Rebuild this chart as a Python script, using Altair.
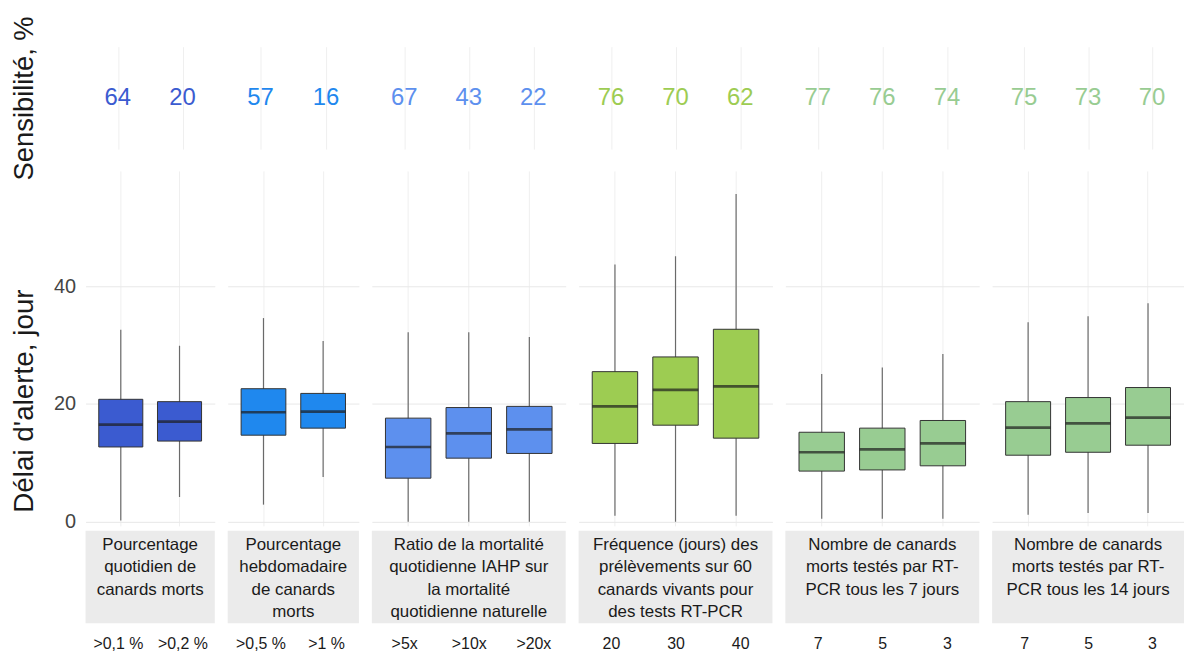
import altair as alt
import pandas as pd

FONT = "Liberation Sans"

strip_labels = [
    "Pourcentage\nquotidien de\ncanards morts",
    "Pourcentage\nhebdomadaire\nde canards\nmorts",
    "Ratio de la mortalité\nquotidienne IAHP sur\nla mortalité\nquotidienne naturelle",
    "Fréquence (jours) des\nprélèvements sur 60\ncanards vivants pour\ndes tests RT-PCR",
    "Nombre de canards\nmorts testés par RT-\nPCR tous les 7 jours",
    "Nombre de canards\nmorts testés par RT-\nPCR tous les 14 jours",
]
seuils = [
    [">0,1 %", ">0,2 %"],
    [">0,5 %", ">1 %"],
    [">5x", ">10x", ">20x"],
    ["20", "30", "40"],
    ["7", "5", "3"],
    ["7", "5", "3"],
]
sensibilite = [[64, 20], [57, 16], [67, 43, 22], [76, 70, 62], [77, 76, 74], [75, 73, 70]]
whisker_low = [[0.2, 4.2], [2.9, 7.6], [0.0, 0.0, 0.0], [1.0, 0.0, 1.0], [0.5, 0.5, 0.5], [1.2, 1.5, 1.5]]
q1 = [[12.7, 13.7], [14.7, 15.9], [7.4, 10.8, 11.6], [13.3, 16.4, 14.2], [8.6, 8.8, 9.5], [11.3, 11.8, 13.0]]
median = [[16.5, 17.0], [18.6, 18.7], [12.7, 15.0, 15.7], [19.6, 22.4, 23.0], [11.8, 12.3, 13.3], [16.0, 16.7, 17.7]]
q3 = [[20.8, 20.4], [22.6, 21.8], [17.6, 19.4, 19.6], [25.5, 28.0, 32.7], [15.2, 15.9, 17.2], [20.4, 21.1, 22.8]]
whisker_high = [[32.6, 29.9], [34.6, 30.7], [32.2, 32.2, 31.4], [43.7, 45.1, 55.7], [25.1, 26.2, 28.5], [33.9, 34.9, 37.1]]
colors = ["#3b5bd0", "#1f88ee", "#5d90ee", "#9dcc52", "#98cc92", "#98cc92"]

panel_widths = [130, 132, 195, 195, 195, 193]
Y_DOMAIN = [-0.7, 59.6]

sens_cells, spacer_cells, box_cells, strip_cells = [], [], [], []
for i in range(6):
    n = len(seuils[i])
    w = panel_widths[i]
    step = w / (n + 0.2)
    first = i == 0
    df = pd.DataFrame({
        "seuil": seuils[i],
        "sens": [str(v) for v in sensibilite[i]],
        "lo": whisker_low[i],
        "q1": q1[i],
        "med": median[i],
        "q3": q3[i],
        "hi": whisker_high[i],
        "row": ["s"] * n,
    })
    xscale = alt.Scale(domain=seuils[i], paddingInner=0, paddingOuter=0.1)
    x_grid_axis = alt.Axis(title=None, labels=False, ticks=False, domain=False,
                           grid=True, gridColor="#efefef", gridWidth=1, bandPosition=0.5)
    x_enc = alt.X("seuil:N", scale=xscale, sort=seuils[i], axis=x_grid_axis)

    # sensitivity row
    sens_enc = dict(x=x_enc, text="sens:N")
    if first:
        sens_enc["y"] = alt.Y("row:N", axis=alt.Axis(
            title="Sensibilité, %", labels=False, ticks=False, domain=False, grid=False,
            titleFontSize=27.5, titleFontWeight="normal", titleColor="#1a1a1a",
            titleX=-47, titleFont=FONT))
    sens = alt.Chart(df).mark_text(font=FONT, fontSize=24, color=colors[i]).encode(
        **sens_enc).properties(width=w, height=103)
    sens_cells.append(sens)

    # empty spacer between the two panel rows
    spacer = alt.Chart(df).mark_point(opacity=0).properties(width=w, height=12)
    spacer_cells.append(spacer)

    # box plot row
    if first:
        y_axis = alt.Axis(title="Délai d'alerte, jour", values=[0, 20, 40], ticks=False,
                          domain=False, labelFontSize=20, labelColor="#444444",
                          labelPadding=10, labelFont=FONT, titleFontSize=28,
                          titleFontWeight="normal", titleColor="#1a1a1a", titleX=-47,
                          titleY=231, titleFont=FONT, grid=True, gridColor="#e8e8e8")
    else:
        y_axis = alt.Axis(title=None, values=[0, 20, 40], ticks=False, domain=False,
                          labels=False, grid=True, gridColor="#e8e8e8")
    yscale = alt.Scale(domain=Y_DOMAIN, nice=False, zero=False)
    base = alt.Chart(df).encode(x=x_enc)
    whisk = base.mark_rule(color="#6a6a6a", strokeWidth=1.2).encode(
        y=alt.Y("lo:Q", scale=yscale, axis=y_axis), y2="hi:Q")
    box = base.mark_bar(stroke="#333333", strokeWidth=1, fill=colors[i],
                        width=alt.RelativeBandSize(0.75)).encode(
        y=alt.Y("q1:Q", scale=yscale), y2="q3:Q")
    med = base.mark_tick(color="#1e1e1e", thickness=2.7, size=step * 0.75).encode(
        y=alt.Y("med:Q", scale=yscale))
    box_cells.append(alt.layer(whisk, box, med).properties(width=w, height=357))

    # strip row
    axis_layer = alt.Chart(df).mark_point(opacity=0).encode(
        x=alt.X("seuil:N", scale=xscale, sort=seuils[i],
                axis=alt.Axis(title=None, ticks=False, domain=False, grid=False,
                              labelFontSize=16, labelPadding=12, labelColor="#1a1a1a",
                              labelAngle=0, labelFont=FONT, orient="bottom")))
    strip_df = pd.DataFrame({"label": [strip_labels[i]]})
    text_layer = alt.Chart(strip_df).mark_text(
        font=FONT, fontSize=17, lineBreak="\n", lineHeight=22.3, color="#1a1a1a",
        baseline="top", dy=-40).encode(text="label:N")
    strip = alt.layer(axis_layer, text_layer).properties(
        width=w, height=93, view=alt.ViewBackground(fill="#ebebeb", strokeWidth=0))
    strip_cells.append(strip)

chart = alt.concat(
    *(sens_cells + spacer_cells + box_cells + strip_cells),
    columns=6,
    spacing=alt.RowColnumber(row=5, column=13),
    bounds="flush",
    align="each",
).properties(
    padding={"left": 3, "top": 5, "right": 0, "bottom": 0},
    background="white",
).resolve_scale(x="independent", y="independent").configure(
    font=FONT
).configure_view(strokeWidth=0, stroke="transparent")

chart.save("out.html", embed_options={"renderer": "svg", "actions": False})
